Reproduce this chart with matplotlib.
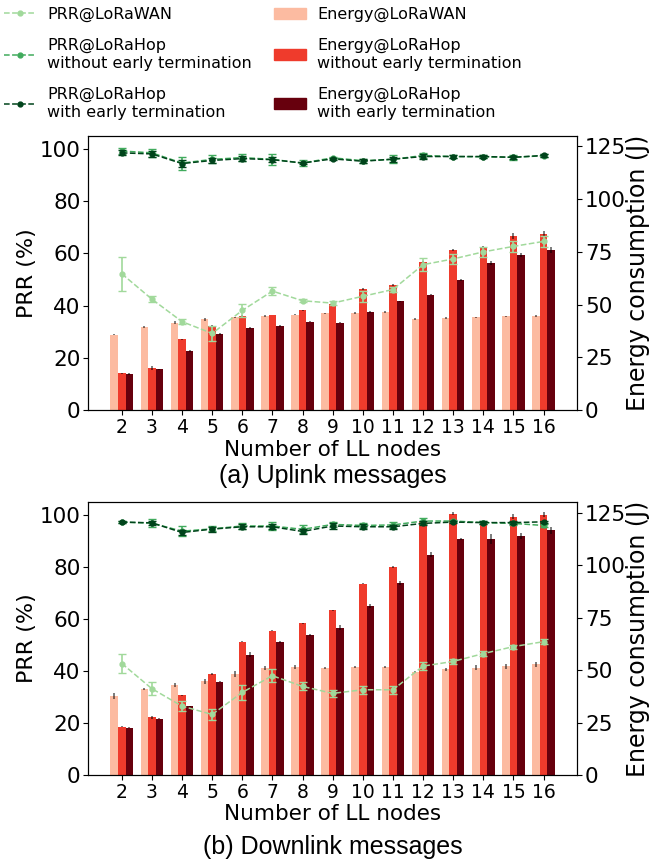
import numpy as np
import matplotlib
matplotlib.use("Agg")
import matplotlib.pyplot as plt
from matplotlib.lines import Line2D
from matplotlib.patches import Patch

plt.rcParams['font.family'] = ['DejaVu Sans']
plt.rcParams['font.size'] = 15

nodes = list(range(2, 17))

# uplink energy (J)
energy_lw_up = [35.8, 39.5, 41.5, 43.0, 44.0, 44.6, 45.3, 45.9, 46.1, 46.6, 43.2, 43.7, 44.0, 44.5, 44.7]
energy_hop_up = [17.5, 19.9, 33.6, 39.9, 44.6, 45.1, 47.3, 50.1, 57.4, 59.3, 70.1, 76.0, 77.4, 82.7, 83.6]
energy_et_up = [17.0, 19.4, 28.0, 36.1, 39.0, 39.9, 41.9, 41.5, 46.6, 51.7, 54.7, 61.7, 69.8, 73.6, 76.0]
energy_lw_up_err = [0.3, 0.4, 0.6, 0.5, 0.3, 0.3, 0.3, 0.3, 0.3, 0.3, 0.3, 0.3, 0.3, 0.3, 0.3]
energy_hop_up_err = [0.3, 0.9, 0.3, 0.3, 0.3, 0.2, 0.4, 0.3, 0.3, 0.3, 0.4, 0.5, 0.5, 1.5, 1.2]
energy_et_up_err = [0.5, 0.3, 0.5, 0.3, 0.4, 0.3, 0.3, 0.3, 0.3, 0.2, 0.3, 0.3, 1.0, 1.0, 1.5]

# uplink PRR (%)
prr_lw_up = [52.2, 42.5, 33.9, 29.4, 38.2, 45.6, 41.9, 41.0, 43.6, 46.2, 55.7, 57.9, 60.6, 62.7, 64.6]
prr_lw_up_err = [6.5, 1.2, 1.0, 3.0, 2.5, 1.5, 0.6, 0.8, 2.0, 1.0, 2.5, 2.0, 2.0, 2.0, 2.0]
prr_hop_up = [99.2, 98.5, 94.6, 96.0, 96.7, 96.0, 94.6, 96.6, 95.5, 96.0, 97.5, 97.1, 97.0, 96.8, 97.4]
prr_hop_up_err = [1.0, 1.5, 2.5, 1.5, 1.5, 2.0, 1.0, 0.5, 0.7, 1.5, 1.0, 0.5, 0.5, 1.0, 0.5]
prr_et_up = [98.5, 98.1, 94.4, 95.6, 96.3, 95.9, 94.6, 96.2, 95.3, 96.1, 97.1, 97.1, 97.1, 96.8, 97.5]
prr_et_up_err = [1.0, 1.0, 1.5, 1.0, 1.0, 1.0, 0.5, 0.5, 0.7, 1.0, 1.0, 0.5, 0.5, 0.5, 0.5]

# downlink energy (J)
energy_lw_dn = [37.5, 40.9, 42.8, 44.7, 48.1, 51.0, 51.4, 51.0, 51.4, 51.4, 49.0, 50.3, 51.2, 51.7, 52.8]
energy_hop_dn = [23.1, 27.4, 38.0, 48.1, 63.5, 68.8, 72.3, 78.4, 91.2, 99.1, 121.0, 124.5, 119.9, 123.1, 124.0]
energy_et_dn = [22.6, 26.9, 32.7, 44.4, 57.2, 63.5, 66.8, 70.2, 80.5, 91.5, 104.9, 112.5, 112.5, 114.0, 116.5]
energy_lw_dn_err = [1.5, 0.4, 1.0, 1.2, 1.5, 0.8, 0.8, 0.6, 0.5, 0.5, 0.6, 0.6, 1.0, 1.0, 1.2]
energy_hop_dn_err = [0.3, 0.5, 0.3, 0.3, 0.3, 0.2, 0.3, 0.3, 0.3, 0.3, 0.5, 0.6, 0.5, 1.2, 1.2]
energy_et_dn_err = [0.3, 0.3, 0.3, 0.3, 1.2, 0.5, 0.5, 1.2, 1.0, 1.0, 1.2, 0.5, 2.5, 1.5, 1.5]

# downlink PRR (%)
prr_lw_dn = [42.9, 33.2, 26.5, 23.3, 31.8, 38.2, 34.1, 31.4, 32.8, 32.8, 41.9, 43.7, 46.7, 49.4, 51.3]
prr_lw_dn_err = [3.5, 2.5, 2.0, 2.0, 3.0, 2.5, 1.5, 1.5, 1.5, 1.5, 1.5, 1.0, 1.0, 0.8, 1.0]
prr_hop_dn = [97.3, 96.9, 93.8, 94.7, 95.8, 95.8, 94.5, 96.4, 96.0, 96.2, 97.7, 97.7, 97.1, 96.8, 96.0]
prr_hop_dn_err = [0.5, 1.5, 2.0, 1.0, 1.0, 1.5, 1.5, 1.0, 1.0, 1.0, 1.0, 0.5, 0.5, 0.5, 0.5]
prr_et_dn = [97.3, 97.0, 93.3, 94.6, 95.5, 95.5, 93.7, 95.8, 95.5, 95.5, 96.8, 97.3, 97.1, 97.1, 97.4]
prr_et_dn_err = [0.5, 0.8, 1.0, 1.0, 1.0, 1.0, 0.8, 1.0, 1.0, 0.8, 0.8, 0.5, 0.5, 0.5, 0.5]

bar_colors = ['#fcbba1', '#ef3b2c', '#67000d']
line_colors = ['#a1d99b', '#41ab5d', '#00441b']
prr_labels = ['PRR@LoRaWAN', 'PRR@LoRaHop\nwithout early termination',
              'PRR@LoRaHop\nwith early termination']
energy_labels = ['Energy@LoRaWAN', 'Energy@LoRaHop\nwithout early termination',
                 'Energy@LoRaHop\nwith early termination']


def draw_panel(ax, energies, energy_errs, prrs, prr_errs):
    x = np.array(nodes)
    width = 0.25
    ax2 = ax.twinx()
    for i, (e, err) in enumerate(zip(energies, energy_errs)):
        ax2.bar(x + (i - 1) * width, e, width, color=bar_colors[i],
                yerr=err, error_kw=dict(ecolor='black', elinewidth=1.2, alpha=0.6))
    for i, (p, err) in enumerate(zip(prrs, prr_errs)):
        ax.errorbar(x, p, yerr=err, color=line_colors[i], linestyle='--',
                    linewidth=1.1, marker='o', markersize=3.5, capsize=3,
                    elinewidth=1.2, zorder=3 + i)
    ax.set_zorder(ax2.get_zorder() + 1)
    ax.patch.set_visible(False)
    ax.set_xlim(0.88, 17.12)
    ax.set_ylim(0, 105)
    ax2.set_ylim(0, 130)
    ax.set_yticks([0, 20, 40, 60, 80, 100])
    ax2.set_yticks([0, 25, 50, 75, 100, 125])
    ax.set_xticks(nodes)
    ax.set_ylabel('PRR (%)', fontsize=16, labelpad=2)
    ax2.set_ylabel('Energy consumption (J)', fontsize=17, labelpad=0)
    ax.set_xlabel('Number of LL nodes', fontsize=15.5, labelpad=2)
    ax.tick_params(axis='y', labelsize=15.5, pad=2)
    ax.tick_params(axis='x', labelsize=13.5, pad=2)
    ax2.tick_params(axis='y', labelsize=15.5, pad=2)
    return ax2


fig = plt.figure(figsize=(6.62, 8.6), dpi=100)
ax_up = fig.add_axes([0.133, 0.523, 0.739, 0.319])
ax_dn = fig.add_axes([0.133, 0.0988, 0.739, 0.3174])

draw_panel(ax_up, [energy_lw_up, energy_hop_up, energy_et_up],
           [energy_lw_up_err, energy_hop_up_err, energy_et_up_err],
           [prr_lw_up, prr_hop_up, prr_et_up],
           [prr_lw_up_err, prr_hop_up_err, prr_et_up_err])
draw_panel(ax_dn, [energy_lw_dn, energy_hop_dn, energy_et_dn],
           [energy_lw_dn_err, energy_hop_dn_err, energy_et_dn_err],
           [prr_lw_dn, prr_hop_dn, prr_et_dn],
           [prr_lw_dn_err, prr_hop_dn_err, prr_et_dn_err])

fig.text(0.502, 1 - 476 / 860, '(a) Uplink messages', ha='center', va='center',
         fontsize=18, family=['Liberation Sans', 'DejaVu Sans'])
fig.text(0.502, 1 - 847 / 860, '(b) Downlink messages', ha='center', va='center',
         fontsize=18, family=['Liberation Sans', 'DejaVu Sans'])

handles = [Line2D([0], [0], color=c, linestyle='--', linewidth=1.1, marker='o',
                  markersize=3.5) for c in line_colors]
handles += [Patch(color=c) for c in bar_colors]
leg = fig.legend(handles, prr_labels + energy_labels, ncol=2, loc='upper left',
                 bbox_to_anchor=(0.006, 1 - 7 / 860), frameon=False, fontsize=11.5,
                 borderpad=0, borderaxespad=0, handlelength=2.0,
                 columnspacing=1.4, labelspacing=0.95, handletextpad=0.7)
for t in leg.get_texts():
    t.set_linespacing(1.3)

fig.savefig('out.png', dpi=100)
